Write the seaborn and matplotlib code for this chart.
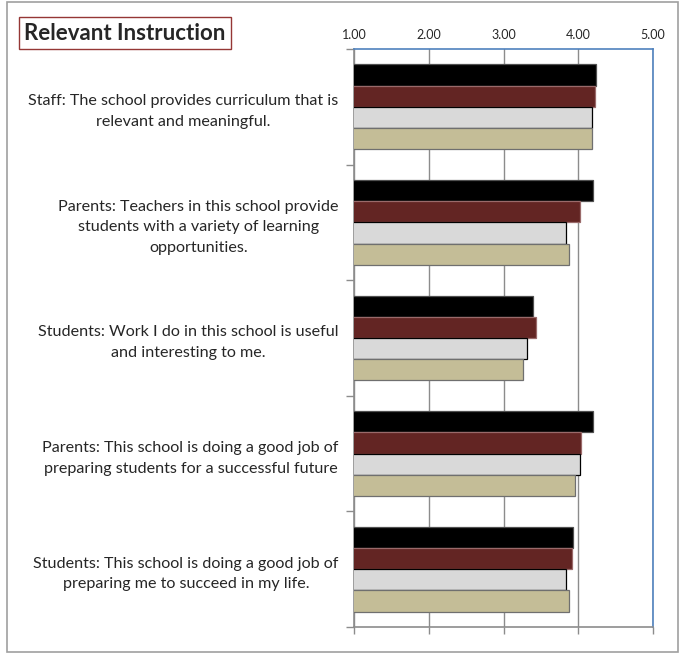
import pandas as pd
import matplotlib.pyplot as plt
import seaborn as sns
from matplotlib.patches import Rectangle

# Survey items (top to bottom)
questions = [
    'Staff: The school provides curriculum that is\nrelevant and meaningful.',
    'Parents: Teachers in this school provide\nstudents with a variety of learning\nopportunities.',
    'Students: Work I do in this school is useful\nand interesting to me.',
    'Parents: This school is doing a good job of\npreparing students for a successful future',
    'Students: This school is doing a good job of\npreparing me to succeed in my life.',
]
series = ['Series 1', 'Series 2', 'Series 3', 'Series 4']

# Mean ratings, one list per series
series1 = [4.24, 4.20, 3.40, 4.20, 3.93]
series2 = [4.23, 4.03, 3.43, 4.04, 3.91]
series3 = [4.18, 3.84, 3.32, 4.02, 3.84]
series4 = [4.18, 3.88, 3.26, 3.96, 3.88]

colors = ['#000000', '#632523', '#D9D9D9', '#C4BD97']
edges = ['#505050', '#9a6a6a', '#000000', '#6f6f6f']

rows = []
for s, vals in zip(series, [series1, series2, series3, series4]):
    for q, v in zip(questions, vals):
        rows.append({'Question': q, 'Series': s, 'Score': v})
df = pd.DataFrame(rows)

sns.set_style('white')
plt.rcParams['font.family'] = ['Lato', 'DejaVu Sans']

fig = plt.figure(figsize=(6.8, 6.54), dpi=100)
ax = fig.add_axes([0.5206, 0.0413, 0.4397, 0.8838])

sns.barplot(data=df, y='Question', x='Score', hue='Series', order=questions,
            hue_order=series, palette=colors, saturation=1, width=0.733, orient='h',
            legend=False, ax=ax, zorder=3)

# bar outlines differ by series
for container, ec in zip(ax.containers, edges):
    for bar in container:
        bar.set_edgecolor(ec)
        bar.set_linewidth(0.9)

ax.set_xlim(1, 5)
ax.set_ylim(4.5, -0.5)
ax.set_xticks([1, 2, 3, 4, 5])
ax.set_xticklabels(['1.00', '2.00', '3.00', '4.00', '5.00'])
ax.xaxis.grid(True, color='#8c8c8c', linewidth=1.0, zorder=0)
ax.set_axisbelow(True)
ax.tick_params(axis='x', labeltop=True, labelbottom=False, top=False, bottom=True,
               length=5, width=1, color='#8c8c8c', labelsize=9, pad=1)

ax.set_yticks(range(len(questions)))
ax.set_yticks([i - 0.5 for i in range(len(questions) + 1)], minor=True)
ax.tick_params(axis='y', which='major', length=0, pad=11, labelsize=11.6)
ax.tick_params(axis='y', which='minor', length=6, width=1, color='#8c8c8c', left=True)
for lab in ax.get_yticklabels():
    lab.set_multialignment('center')
    lab.set_linespacing(1.6)
ax.set_xlabel('')
ax.set_ylabel('')

for side in ['left', 'bottom']:
    ax.spines[side].set_color('#8c8c8c')
    ax.spines[side].set_linewidth(1.2)
for side in ['top', 'right']:
    ax.spines[side].set_color('#4f81bd')
    ax.spines[side].set_linewidth(1.2)

# title box and outer frame
fig.text(0.036, 0.949, 'Relevant Instruction', fontsize=16, fontweight='bold',
         va='center', ha='left',
         bbox=dict(boxstyle='square,pad=0.25', fc='white', ec='#953735', lw=1.0))
fig.patches.append(Rectangle((0.01, 0.003), 0.987, 0.994, transform=fig.transFigure,
                             fill=False, ec='#a0a0a0', lw=1.2))

plt.savefig('out.png', dpi=100)
